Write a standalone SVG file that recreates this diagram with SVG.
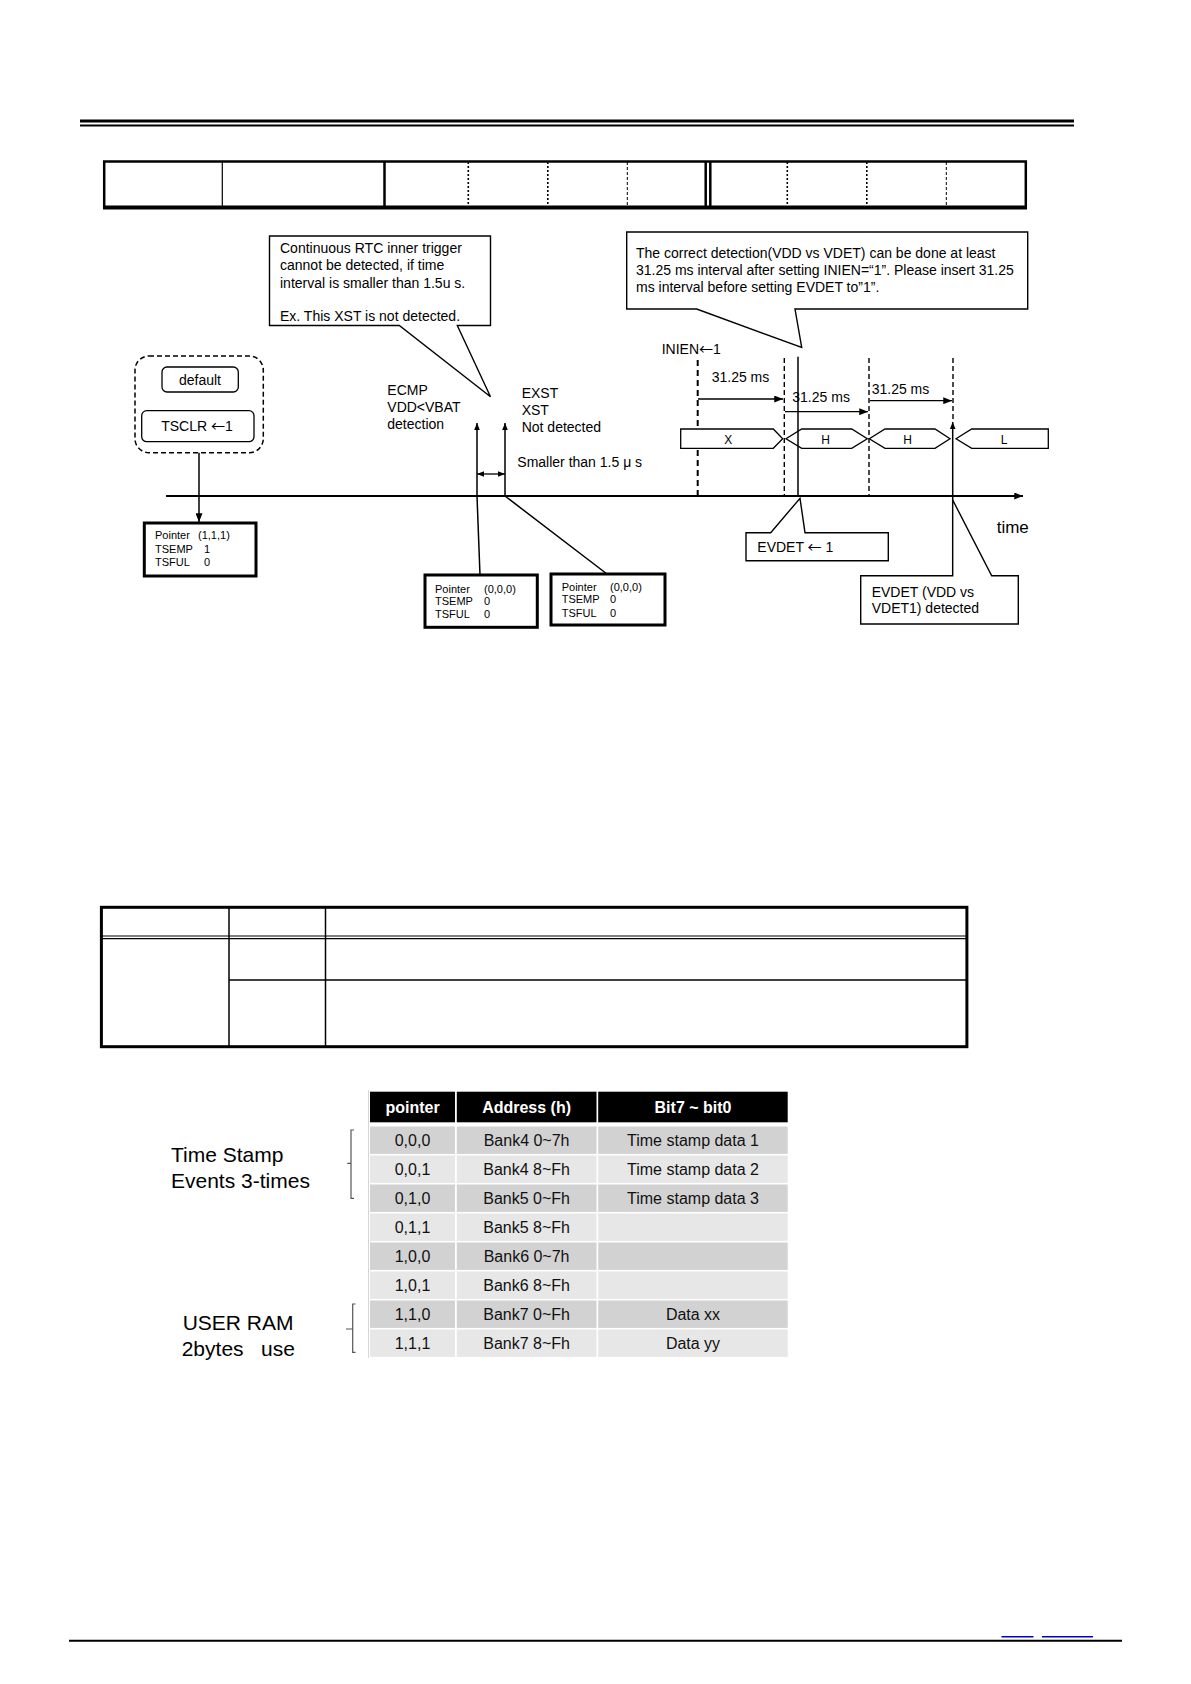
<svg xmlns="http://www.w3.org/2000/svg" width="1191" height="1684" viewBox="0 0 1191 1684">
<style>
text{font-family:"Liberation Sans",Arial,sans-serif;fill:#000}
.f14{font-size:14px}
.f11{font-size:11px}
.arw{font-family:"Noto Sans CJK JP","DejaVu Sans",sans-serif}
.bus{font-size:12px;text-anchor:middle}
.hd{font-size:16px;font-weight:bold;fill:#fff;text-anchor:middle}
.cell{font-size:16px;text-anchor:middle;fill:#111}
.lbl{font-size:21px}
.ln{stroke:#000;fill:none}
.call{fill:#fff;stroke:#000;stroke-width:1.4}
.pbox{fill:#fff;stroke:#000;stroke-width:3}
.dot{stroke:#000;stroke-width:1.6;stroke-dasharray:2 2}
.dsh{stroke:#000;stroke-width:1;stroke-dasharray:3 2}
.vd{stroke:#000;stroke-width:1.4;stroke-dasharray:5 3}
.busp{fill:#fff;stroke:#000;stroke-width:1.3}
.dk{fill:#d2d2d2}
.lt{fill:#e7e7e7}
.brk{stroke:#555;stroke-width:1.2;fill:none}
</style>
<defs>
<marker id="ah" viewBox="0 0 10 8" refX="10" refY="4" markerWidth="9" markerHeight="7" orient="auto-start-reverse" markerUnits="userSpaceOnUse"><path d="M0,0 L10,4 L0,8 Z" fill="#000"/></marker>
<marker id="ahs" viewBox="0 0 10 8" refX="10" refY="4" markerWidth="7" markerHeight="6" orient="auto-start-reverse" markerUnits="userSpaceOnUse"><path d="M0,0 L10,4 L0,8 Z" fill="#000"/></marker>
</defs>
<rect x="0" y="0" width="1191" height="1684" fill="#fff"/>

<g id="header-rule">
<line x1="80" y1="121" x2="1074" y2="121" stroke="#000" stroke-width="3"/>
<line x1="80" y1="125.5" x2="1074" y2="125.5" stroke="#000" stroke-width="2"/>
</g>

<g id="top-table">
<rect x="104.2" y="161.5" width="921.6" height="46" fill="none" stroke="#000" stroke-width="2.5"/>
<line x1="103" y1="207.5" x2="1027" y2="207.5" stroke="#000" stroke-width="4"/>
<line x1="222.3" y1="161.5" x2="222.3" y2="207.5" stroke="#000" stroke-width="1.2"/>
<line x1="384.5" y1="161.5" x2="384.5" y2="207.5" stroke="#000" stroke-width="2.5"/>
<line x1="468.3" y1="162" x2="468.3" y2="207" class="dot"/>
<line x1="547.8" y1="162" x2="547.8" y2="207" class="dot"/>
<line x1="627.3" y1="162" x2="627.3" y2="207" class="dsh"/>
<line x1="705.7" y1="161.5" x2="705.7" y2="207.5" stroke="#000" stroke-width="2.5"/>
<line x1="710.3" y1="161.5" x2="710.3" y2="207.5" stroke="#000" stroke-width="2.5"/>
<line x1="787.3" y1="162" x2="787.3" y2="207" class="dot"/>
<line x1="866.8" y1="162" x2="866.8" y2="207" class="dot"/>
<line x1="946.3" y1="162" x2="946.3" y2="207" class="dsh"/>
</g>

<g id="connectors">
<line x1="166" y1="496" x2="1023" y2="496" stroke="#000" stroke-width="2" marker-end="url(#ah)"/>
<line x1="199" y1="452.7" x2="199" y2="522" stroke="#000" stroke-width="1.5" marker-end="url(#ah)"/>
<polyline points="480,575 477,496 477,423" class="ln" stroke-width="1.5" marker-end="url(#ahs)"/>
<polyline points="607,574 505,496 505,423" class="ln" stroke-width="1.5" marker-end="url(#ahs)"/>
<line x1="477" y1="474" x2="505" y2="474" stroke="#000" stroke-width="1.3" marker-start="url(#ahs)" marker-end="url(#ahs)"/>
<line x1="697.7" y1="360" x2="697.7" y2="496" stroke="#000" stroke-width="2" stroke-dasharray="6 4"/>
<line x1="784.3" y1="358" x2="784.3" y2="496" class="vd"/>
<line x1="869" y1="358" x2="869" y2="496" class="vd"/>
<line x1="953" y1="358" x2="953" y2="421" class="vd"/>
<line x1="698" y1="399" x2="783" y2="399" stroke="#000" stroke-width="1.3" marker-end="url(#ah)"/>
<line x1="785" y1="411.7" x2="868" y2="411.7" stroke="#000" stroke-width="1.3" marker-end="url(#ah)"/>
<line x1="870" y1="400.7" x2="952" y2="400.7" stroke="#000" stroke-width="1.3" marker-end="url(#ah)"/>
</g>

<g id="bus">
<path class="busp" d="M680.7,429 H773.3 L782.7,438.7 L773.3,448.3 H680.7 Z"/>
<path class="busp" d="M786,438.7 L801.7,429 H851.7 L867.3,438.7 L851.7,448.3 H801.7 Z"/>
<path class="busp" d="M869.3,438.7 L885,429 H935 L950,438.7 L935,448.3 H885 Z"/>
<path class="busp" d="M956,438.7 L971.7,429 H1048.3 V448.3 H971.7 Z"/>
<text class="bus" x="728.3" y="443.5">X</text>
<text class="bus" x="825.7" y="443.5">H</text>
<text class="bus" x="907.7" y="443.5">H</text>
<text class="bus" x="1004" y="443.5">L</text>
</g>

<g id="evdet-lines">
<line x1="798" y1="356.7" x2="798" y2="496" stroke="#000" stroke-width="1.5"/>
<line x1="952.7" y1="575.7" x2="952.7" y2="422" stroke="#000" stroke-width="1.5" marker-end="url(#ahs)"/>
</g>

<g id="init-group">
<rect x="135" y="356" width="128.3" height="96.7" rx="14" fill="none" stroke="#000" stroke-width="1.5" stroke-dasharray="5 3"/>
</g>
<g id="default">
<rect x="162" y="367" width="76.3" height="25" rx="5" fill="#fff" stroke="#000" stroke-width="1.3"/>
<text class="f14" x="200" y="384.5" text-anchor="middle">default</text>
</g>
<g id="tsclr">
<rect x="141.7" y="410.7" width="112.3" height="31" rx="5" fill="#fff" stroke="#000" stroke-width="1.3"/>
<text class="f14" x="197" y="431" text-anchor="middle">TSCLR <tspan class="arw">←</tspan>1</text>
</g>

<g id="ptr1">
<rect class="pbox" x="144.3" y="523" width="111.7" height="53"/>
<text class="f11" x="155" y="539.3">Pointer</text><text class="f11" x="198" y="539.3">(1,1,1)</text>
<text class="f11" x="155" y="552.7">TSEMP</text><text class="f11" x="204" y="552.7">1</text>
<text class="f11" x="155" y="566">TSFUL</text><text class="f11" x="204" y="566">0</text>
</g>
<g id="ptr2">
<rect class="pbox" x="425" y="575" width="112.3" height="52.3"/>
<text class="f11" x="435" y="592.7">Pointer</text><text class="f11" x="484" y="592.7">(0,0,0)</text>
<text class="f11" x="435" y="605">TSEMP</text><text class="f11" x="484" y="605">0</text>
<text class="f11" x="435" y="618.3">TSFUL</text><text class="f11" x="484" y="618.3">0</text>
</g>
<g id="ptr3">
<rect class="pbox" x="551" y="574" width="114" height="51"/>
<text class="f11" x="561.7" y="591">Pointer</text><text class="f11" x="610" y="591">(0,0,0)</text>
<text class="f11" x="561.7" y="603.3">TSEMP</text><text class="f11" x="610" y="603.3">0</text>
<text class="f11" x="561.7" y="616.7">TSFUL</text><text class="f11" x="610" y="616.7">0</text>
</g>

<g id="callout1">
<path class="call" d="M269.5,236 H490.5 V325.5 H457.3 L490.5,396.7 L399.3,325.5 H269.5 Z"/>
<text class="f14" x="280" y="253">Continuous RTC inner trigger</text>
<text class="f14" x="280" y="270">cannot be detected, if time</text>
<text class="f14" x="280" y="287.5">interval is smaller than 1.5u s.</text>
<text class="f14" x="280" y="320.5">Ex.  This XST is not detected.</text>
</g>

<g id="callout2">
<path class="call" d="M626.7,232 H1027.7 V309 H795 L801.7,347.5 L696.7,309 H626.7 Z"/>
<text class="f14" x="636" y="258">The correct detection(VDD vs VDET) can be done at least</text>
<text class="f14" x="636" y="275">31.25 ms interval after setting INIEN=“1”. Please insert 31.25</text>
<text class="f14" x="636" y="292">ms interval before setting EVDET to”1”.</text>
</g>

<g id="labels">
<text class="f14" x="387.3" y="395">ECMP</text>
<text class="f14" x="387.3" y="411.7">VDD&lt;VBAT</text>
<text class="f14" x="387.3" y="429">detection</text>
<text class="f14" x="521.7" y="398.3">EXST</text>
<text class="f14" x="521.7" y="415">XST</text>
<text class="f14" x="521.7" y="432.3">Not detected</text>
<text class="f14" x="517.3" y="467.3">Smaller than 1.5 μ s</text>
<text class="f14" x="661.7" y="354">INIEN<tspan class="arw">←</tspan>1</text>
<text class="f14" x="711.7" y="381.7">31.25 ms</text>
<text class="f14" x="792.3" y="401.7">31.25 ms</text>
<text class="f14" x="871.7" y="394.3">31.25 ms</text>
<text x="996.7" y="533.3" font-size="17">time</text>
</g>

<g id="evdet-set">
<path class="call" d="M746,532.7 H770.7 L800,498.3 L805,532.7 H888.3 V560.7 H746 Z"/>
<text class="f14" x="757.3" y="551.7">EVDET <tspan class="arw">←</tspan> 1</text>
</g>
<g id="evdet-detected">
<path class="call" d="M860.7,575.7 H952.7 L952.7,500 L991.7,575.7 H1018.3 V624 H860.7 Z"/>
<text class="f14" x="871.7" y="596.7">EVDET (VDD vs</text>
<text class="f14" x="871.7" y="612.7">VDET1)  detected</text>
</g>

<g id="mid-table">
<rect x="101.4" y="907.3" width="865.5" height="139.4" fill="none" stroke="#000" stroke-width="3"/>
<line x1="229" y1="907.3" x2="229" y2="1046.7" stroke="#000" stroke-width="1.5"/>
<line x1="325.5" y1="907.3" x2="325.5" y2="1046.7" stroke="#000" stroke-width="1.5"/>
<line x1="101.4" y1="936" x2="966.9" y2="936" stroke="#000" stroke-width="1.2"/>
<line x1="101.4" y1="938.6" x2="966.9" y2="938.6" stroke="#000" stroke-width="1.2"/>
<line x1="229" y1="980" x2="966.9" y2="980" stroke="#000" stroke-width="1.5"/>
</g>

<g id="mem-table">
<line x1="368.5" y1="1090" x2="368.5" y2="1358" stroke="#d6d6d6" stroke-width="1"/>
<rect x="370" y="1091.7" width="85" height="30.6" fill="#000"/>
<rect x="456.8" y="1091.7" width="139.7" height="30.6" fill="#000"/>
<rect x="598.2" y="1091.7" width="189.5" height="30.6" fill="#000"/>
<text class="hd" x="412.5" y="1112.5">pointer</text>
<text class="hd" x="526.6" y="1112.5">Address (h)</text>
<text class="hd" x="693" y="1112.5">Bit7 ~ bit0</text>

<g class="dk"><rect x="370" y="1126.5" width="85" height="27.4"/><rect x="456.8" y="1126.5" width="139.7" height="27.4"/><rect x="598.2" y="1126.5" width="189.5" height="27.4"/></g>
<g class="lt"><rect x="370" y="1155.5" width="85" height="27.4"/><rect x="456.8" y="1155.5" width="139.7" height="27.4"/><rect x="598.2" y="1155.5" width="189.5" height="27.4"/></g>
<g class="dk"><rect x="370" y="1184.5" width="85" height="27.4"/><rect x="456.8" y="1184.5" width="139.7" height="27.4"/><rect x="598.2" y="1184.5" width="189.5" height="27.4"/></g>
<g class="lt"><rect x="370" y="1213.5" width="85" height="27.4"/><rect x="456.8" y="1213.5" width="139.7" height="27.4"/><rect x="598.2" y="1213.5" width="189.5" height="27.4"/></g>
<g class="dk"><rect x="370" y="1242.5" width="85" height="27.4"/><rect x="456.8" y="1242.5" width="139.7" height="27.4"/><rect x="598.2" y="1242.5" width="189.5" height="27.4"/></g>
<g class="lt"><rect x="370" y="1271.5" width="85" height="27.4"/><rect x="456.8" y="1271.5" width="139.7" height="27.4"/><rect x="598.2" y="1271.5" width="189.5" height="27.4"/></g>
<g class="dk"><rect x="370" y="1300.5" width="85" height="27.4"/><rect x="456.8" y="1300.5" width="139.7" height="27.4"/><rect x="598.2" y="1300.5" width="189.5" height="27.4"/></g>
<g class="lt"><rect x="370" y="1329.5" width="85" height="27.4"/><rect x="456.8" y="1329.5" width="139.7" height="27.4"/><rect x="598.2" y="1329.5" width="189.5" height="27.4"/></g>

<text class="cell" x="412.5" y="1145.8">0,0,0</text><text class="cell" x="526.6" y="1145.8">Bank4 0~7h</text><text class="cell" x="693" y="1145.8">Time stamp data 1</text>
<text class="cell" x="412.5" y="1174.8">0,0,1</text><text class="cell" x="526.6" y="1174.8">Bank4 8~Fh</text><text class="cell" x="693" y="1174.8">Time stamp data 2</text>
<text class="cell" x="412.5" y="1203.8">0,1,0</text><text class="cell" x="526.6" y="1203.8">Bank5 0~Fh</text><text class="cell" x="693" y="1203.8">Time stamp data 3</text>
<text class="cell" x="412.5" y="1232.8">0,1,1</text><text class="cell" x="526.6" y="1232.8">Bank5 8~Fh</text>
<text class="cell" x="412.5" y="1261.8">1,0,0</text><text class="cell" x="526.6" y="1261.8">Bank6 0~7h</text>
<text class="cell" x="412.5" y="1290.8">1,0,1</text><text class="cell" x="526.6" y="1290.8">Bank6 8~Fh</text>
<text class="cell" x="412.5" y="1319.8">1,1,0</text><text class="cell" x="526.6" y="1319.8">Bank7 0~Fh</text><text class="cell" x="693" y="1319.8">Data xx</text>
<text class="cell" x="412.5" y="1348.8">1,1,1</text><text class="cell" x="526.6" y="1348.8">Bank7 8~Fh</text><text class="cell" x="693" y="1348.8">Data yy</text>
</g>

<g id="ts-label">
<text class="lbl" x="171" y="1161.7">Time Stamp</text>
<text class="lbl" x="171" y="1187.7">Events 3-times</text>
<path class="brk" d="M354,1130 H351 V1198.3 H354 M351,1163.3 H347.3"/>
</g>
<g id="ram-label">
<text class="lbl" x="182.7" y="1330">USER RAM</text>
<text class="lbl" x="181.7" y="1356" xml:space="preserve">2bytes   use</text>
<path class="brk" d="M355.5,1304 H352.7 V1352.3 H355.5 M352.7,1329 H346"/>
</g>

<g id="footer">
<line x1="69" y1="1640.7" x2="1122" y2="1640.7" stroke="#000" stroke-width="2"/>
<line x1="1001.5" y1="1636.7" x2="1033.5" y2="1636.7" stroke="#0000cc" stroke-width="1.5"/>
<line x1="1042" y1="1636.7" x2="1093" y2="1636.7" stroke="#0000cc" stroke-width="1.5"/>
</g>
</svg>
